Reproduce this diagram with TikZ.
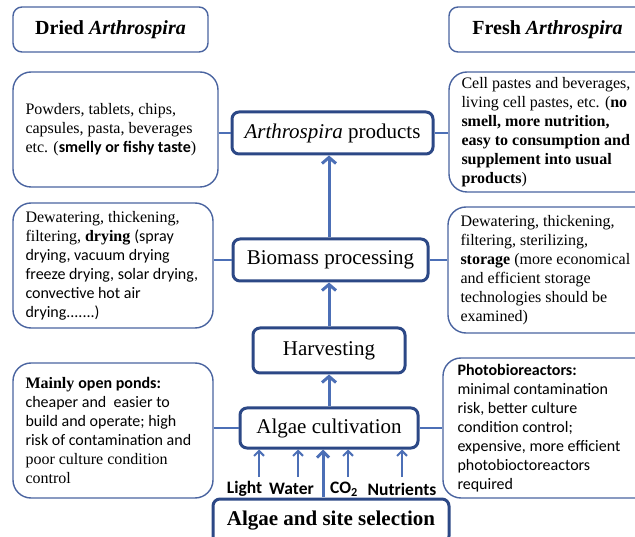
\documentclass[tikz,border=0pt]{standalone}
\usepackage{fontspec}
\setmainfont{Liberation Serif}
\setsansfont{Carlito}
\usetikzlibrary{arrows.meta}
\definecolor{thinb}{HTML}{4A64A0}
\definecolor{thickb}{HTML}{2C4886}
\definecolor{arr}{HTML}{4C6FB6}
\begin{document}
\begin{tikzpicture}[x=1pt,y=-1pt,
  sidebox/.style={draw=thinb, line width=1.4pt, rounded corners=18pt, inner sep=0pt},
  sidetext/.style={inner sep=0pt, align=left, anchor=west, font=\fontsize{16}{19}\selectfont},
  mainbox/.style={draw=thickb, line width=3pt, rounded corners=7pt, inner sep=0pt, font=\fontsize{21}{24}\selectfont},
  headbox/.style={draw=thinb, line width=1.4pt, rounded corners=9pt, inner sep=0pt, font=\bfseries\fontsize{20}{24}\selectfont},
  conn/.style={draw=arr, line width=1.3pt},
  mainarrow/.style={draw=arr, line width=3pt, -{Straight Barb[length=6pt,width=14pt]}},
  inarrow/.style={draw=arr, line width=2pt, -{Straight Barb[length=5pt,width=10pt]}},
  biginarrow/.style={draw=arr, line width=3pt, -{Straight Barb[length=6pt,width=12pt]}},
  inlabel/.style={inner sep=0pt, font=\sffamily\bfseries\fontsize{17.5}{20}\selectfont}
]
\useasboundingbox (0,0) rectangle (635,537);

% headers
\node[headbox, minimum width=195pt, minimum height=45pt] (hd) at (110.5,29.5) {Dried \textit{Arthrospira}};
\node[headbox, minimum width=197pt, minimum height=45pt] (hf) at (547.5,29.5) {Fresh \textit{Arthrospira}};

% main chain
\node[mainbox, minimum width=201pt, minimum height=42pt] (prod) at (332.5,133) {\textit{Arthrospira} products};
\node[mainbox, minimum width=195pt, minimum height=42pt] (bio) at (330.5,260) {Biomass processing};
\node[mainbox, minimum width=152pt, minimum height=45pt] (harv) at (329,350.5) {Harvesting};
\node[mainbox, minimum width=178pt, minimum height=40pt] (cult) at (329,428) {Algae cultivation};
\node[mainbox, minimum width=236pt, minimum height=44pt, font=\bfseries\fontsize{21}{24}\selectfont] (site) at (331,521) {Algae and site selection};

% side boxes
\node[sidebox, minimum width=205pt, minimum height=115pt] (d1) at (115.5,129.5) {};
\node[sidetext] (d1t) at ([xshift=13pt]d1.west) {Powders, tablets, chips,\\ capsules, pasta, beverages\\ etc. (\textsf{\bfseries smelly or fishy taste})};

\node[sidebox, minimum width=200pt, minimum height=125pt] (d2) at (113,265.5) {};
\node[sidetext] (d2t) at ([xshift=13pt]d2.west) {Dewatering, thickening,\\ filtering, \textbf{drying} \textsf{(spray}\\ \textsf{drying, vacuum drying}\\ \textsf{freeze drying, solar drying,}\\ \textsf{convective hot air}\\ \textsf{drying.......)}};

\node[sidebox, minimum width=200pt, minimum height=135pt] (d3) at (113,430.5) {};
\node[sidetext] (d3t) at ([xshift=13pt]d3.west) {\textbf{Mainly} \textsf{\bfseries open ponds:}\\ \textsf{cheaper and\ \ easier to}\\ \textsf{build and operate; high}\\ \textsf{risk of contamination and}\\ poor culture condition\\ control};

\node[sidebox, minimum width=211pt, minimum height=120pt] (f1) at (554.5,132) {};
\node[sidetext] (f1t) at ([xshift=13pt]f1.west) {Cell pastes and beverages,\\ living cell pastes, etc. (\textbf{no}\\ \textbf{smell, more nutrition,}\\ \textbf{easy to consumption and}\\ \textbf{supplement into usual}\\ \textbf{products})};

\node[sidebox, minimum width=212pt, minimum height=126pt] (f2) at (554,270) {};
\node[sidetext] (f2t) at ([xshift=13pt]f2.west) {Dewatering, thickening,\\ filtering, sterilizing,\\ \textbf{storage} (more economical\\ and efficient storage\\ technologies should be\\ examined)};

\node[sidebox, minimum width=217pt, minimum height=140pt] (f3) at (551.5,428) {};
\node[sidetext, font=\sffamily\fontsize{16}{19}\selectfont] (f3t) at ([xshift=15pt]f3.west) {\textbf{Photobioreactors:}\\ minimal contamination\\ risk, better culture\\ condition control;\\ expensive, more efficient\\ photobioctoreactors\\ required};

% connectors
\draw[conn] (d1.east |- prod.west) -- (prod.west);
\draw[conn] (prod.east) -- (prod.east -| f1.west);
\draw[conn] (d2.east |- bio.west) -- (bio.west);
\draw[conn] (bio.east) -- (bio.east -| f2.west);
\draw[conn] (d3.east |- cult.west) -- (cult.west);
\draw[conn] (cult.east) -- (cult.east -| f3.west);

% main arrows
\draw[mainarrow] (cult.north) -- (harv.south);
\draw[mainarrow] (harv.north) -- (harv.north |- bio.south);
\draw[mainarrow] (harv.north |- bio.north) -- (harv.north |- prod.south);

% inputs
\coordinate (iL) at (259,477);
\coordinate (iW) at (298,477);
\coordinate (iC) at (323,497);
\coordinate (iD) at (348,477);
\coordinate (iN) at (402,477);
\draw[inarrow] (iL) -- (iL |- cult.south);
\draw[inarrow] (iW) -- (iW |- cult.south);
\draw[biginarrow] (iC) -- (iC |- cult.south);
\draw[inarrow] (iD) -- (iD |- cult.south);
\draw[inarrow] (iN) -- (iN |- cult.south);

\node[inlabel] (lL) at (244.5,489) {Light};
\node[inlabel] (lW) at (291.5,489) {Water};
\node[inlabel] (lC) at (344,489) {CO\textsubscript{2}};
\node[inlabel] (lN) at (402,489) {Nutrients};
\end{tikzpicture}
\end{document}
